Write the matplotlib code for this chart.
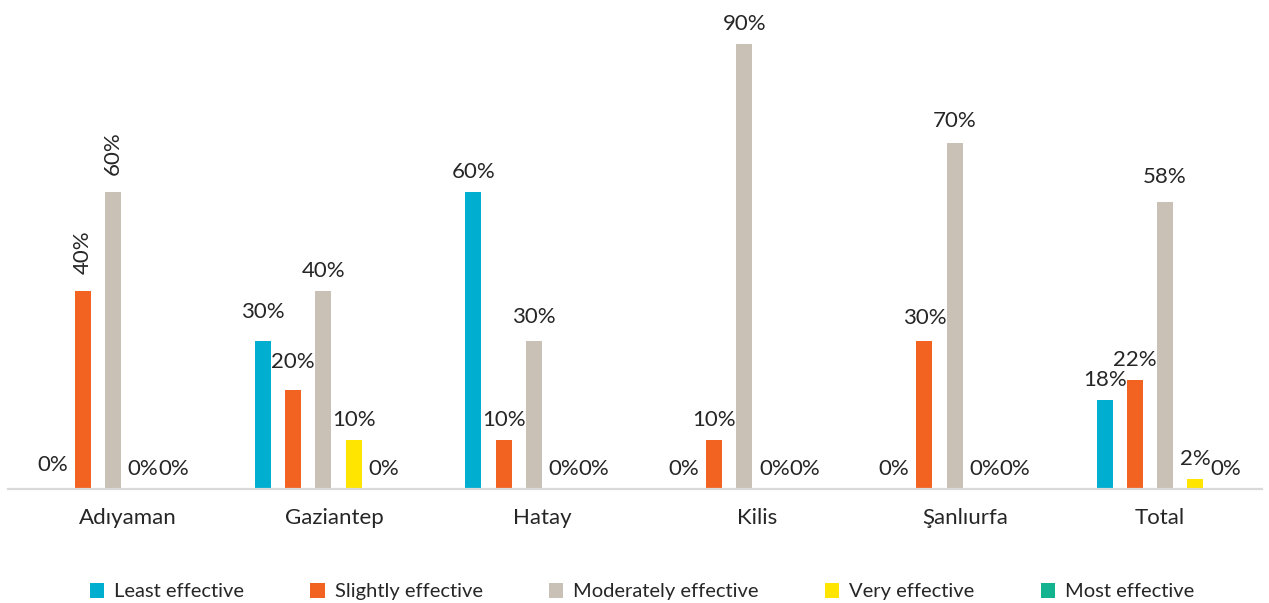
import numpy as np
import matplotlib
matplotlib.use("Agg")
from matplotlib import pyplot as plt
from matplotlib.patches import Patch
from matplotlib.transforms import ScaledTranslation

plt.rcParams['font.family'] = ['Lato', 'DejaVu Sans']

# data (percent)
provinces = ["Adıyaman", "Gaziantep", "Hatay", "Kilis", "Şanlıurfa", "Total"]
series_names = ["Least effective", "Slightly effective", "Moderately effective",
                "Very effective", "Most effective"]
least_effective = [0, 30, 60, 0, 0, 18]
slightly_effective = [40, 20, 10, 10, 30, 22]
moderately_effective = [60, 40, 30, 90, 70, 58]
very_effective = [0, 10, 0, 0, 0, 2]
most_effective = [0, 0, 0, 0, 0, 0]

series_values = [least_effective, slightly_effective, moderately_effective,
                 very_effective, most_effective]
colors = ["#00AFD0", "#F26322", "#C9C1B6", "#FFE500", "#12B38E"]
text_color = "#262626"

# label tweaks (pixels) where the original labels were moved a bit
label_nudge = {(1, 0): 9, (1, 1): 8, (2, 2): 4, (5, 2): 5, (0, 0): 4,
               (4, 1): 3, (4, 2): 2}
rotated_labels = [(0, 1), (0, 2)]
tick_shift = [15, 11, 9, 13, 11, -5]

fig = plt.figure(figsize=(12.69, 6.03), dpi=100)
ax = fig.add_axes([8 / 1269, 114 / 603, 1254 / 1269, 489 / 603])

x = np.arange(len(provinces))
bar_w = 0.076
pitch = 0.1435
px = 0.72  # points per pixel at 100 dpi

for s, vals in enumerate(series_values):
    pos = x + (s - 2) * pitch
    ax.bar(pos, vals, width=bar_w, color=colors[s], zorder=2)
    for g, v in enumerate(vals):
        if (g, s) in rotated_labels:
            ax.annotate(f"{v}%", (pos[g], v), xytext=(0, 17 * px),
                        textcoords='offset points', ha='center', va='bottom',
                        rotation=90, fontsize=16, color=text_color)
        else:
            dy = 20 + label_nudge.get((g, s), 0)
            ax.annotate(f"{v}%", (pos[g], v), xytext=(0, dy * px),
                        textcoords='offset points', ha='center', va='center',
                        fontsize=16, color=text_color)

ax.set_xlim(-0.499, 5.461)
ax.set_ylim(0, 98.9)
ax.set_xticks(x)
ax.set_xticklabels(provinces, fontsize=16, color=text_color)
ax.tick_params(axis='x', length=0, pad=13.5)
ax.set_yticks([])
for side in ['top', 'left', 'right']:
    ax.spines[side].set_visible(False)
ax.spines['bottom'].set_color("#D9D9D9")
ax.spines['bottom'].set_linewidth(1.6)

for lbl, shift in zip(ax.get_xticklabels(), tick_shift):
    lbl.set_transform(lbl.get_transform() + ScaledTranslation(shift / 100, 0, fig.dpi_scale_trans))

handles = [Patch(facecolor=c, edgecolor='none') for c in colors]
fig.legend(handles, series_names, loc='center', bbox_to_anchor=(0.506, 0.019),
           ncol=5, frameon=False, fontsize=14.5, handlelength=0.7,
           handleheight=0.8, handletextpad=0.5, columnspacing=3.3,
           labelcolor=text_color)

fig.savefig("out.png", dpi=100)
